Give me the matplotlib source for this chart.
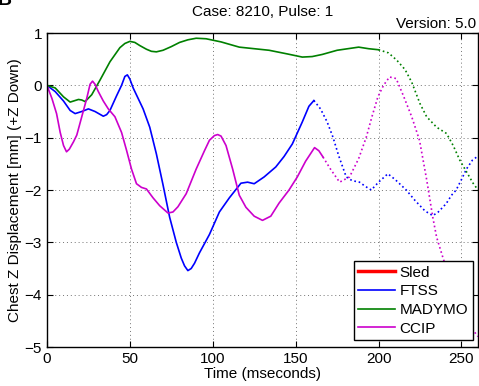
import numpy as np
from matplotlib import pyplot as plt

plt.rcParams['font.family'] = ['Liberation Sans', 'DejaVu Sans']
plt.rcParams['font.size'] = 10

# MADYMO (green): solid part, then dotted continuation
madymo_t = [0, 5, 10, 14, 17, 19, 21, 23, 27, 32, 38, 44, 47, 50, 53, 56, 60, 63, 66, 70, 75, 80, 85,
            90, 96, 105, 116, 125, 134, 145, 154, 160, 166, 175, 188, 194, 200]
madymo_v = [0, -0.05, -0.22, -0.32, -0.29, -0.27, -0.28, -0.31, -0.18, 0.1, 0.45, 0.72, 0.8, 0.84,
            0.82, 0.76, 0.69, 0.65, 0.64, 0.67, 0.74, 0.82, 0.87, 0.9, 0.89, 0.83, 0.73, 0.7, 0.67,
            0.6, 0.54, 0.55, 0.59, 0.67, 0.73, 0.7, 0.68]
madymo_dot_t = [200, 206, 211, 216, 220, 225, 229, 235, 241, 245, 249, 253, 257, 260]
madymo_dot_v = [0.68, 0.62, 0.48, 0.3, 0.06, -0.35, -0.6, -0.8, -0.92, -1.15, -1.43, -1.65, -1.87, -2.0]

# FTSS (blue)
ftss_t = [0, 5, 10, 14, 17, 21, 25, 29, 34, 36, 38, 42, 45, 47, 48.5, 50, 52, 55, 58, 62, 66, 70, 74,
          78, 81, 83, 85, 87, 89, 92, 98, 104, 110, 117, 121, 125, 131, 138, 143, 148, 154, 158, 161]
ftss_v = [0, -0.12, -0.3, -0.48, -0.54, -0.5, -0.45, -0.5, -0.59, -0.56, -0.48, -0.2, 0.0, 0.17, 0.2,
          0.12, -0.05, -0.25, -0.45, -0.8, -1.31, -1.9, -2.52, -3.0, -3.3, -3.45, -3.54, -3.5, -3.4,
          -3.2, -2.85, -2.42, -2.15, -1.87, -1.85, -1.88, -1.75, -1.56, -1.36, -1.12, -0.7, -0.4, -0.29]
ftss_dot_t = [161, 165, 169, 172.5, 176, 180.5, 184, 188.5, 192, 195.6, 200, 205.6, 210, 216.7, 222,
              228, 232.7, 236, 240.8, 244, 246.8, 250, 253, 256.6, 260]
ftss_dot_v = [-0.29, -0.45, -0.7, -0.99, -1.35, -1.75, -1.82, -1.85, -1.93, -2.0, -1.85, -1.69, -1.8,
              -2.0, -2.2, -2.4, -2.49, -2.42, -2.26, -2.1, -2.0, -1.8, -1.6, -1.43, -1.35]

# CCIP (magenta)
ccip_t = [0, 3, 5.8, 8, 10, 11.8, 13.5, 16, 18, 21, 24, 26, 27.5, 29, 31, 34, 37, 41, 45, 48, 51, 54,
          57, 60, 64, 68, 73, 76, 79, 84, 90, 95, 98, 101, 103, 105, 108, 112, 116, 120, 125, 130, 135,
          140, 146, 151, 156, 161.4, 164, 166.5]
ccip_v = [0, -0.25, -0.54, -0.9, -1.15, -1.27, -1.22, -1.08, -0.95, -0.6, -0.25, 0.02, 0.08, 0.02,
          -0.12, -0.3, -0.45, -0.6, -0.9, -1.24, -1.6, -1.88, -1.95, -1.98, -2.15, -2.3, -2.44, -2.42,
          -2.32, -2.07, -1.6, -1.25, -1.05, -0.96, -0.94, -0.97, -1.15, -1.6, -2.1, -2.33, -2.5, -2.58,
          -2.5, -2.25, -2.0, -1.75, -1.45, -1.19, -1.25, -1.37]
ccip_dot_t = [166.5, 171, 176.5, 182.5, 188, 192.6, 196, 199.6, 203, 206.6, 210.6, 215, 220, 224.7,
              229, 232.7, 235, 238.7, 244, 250, 255, 260]
ccip_dot_v = [-1.37, -1.6, -1.85, -1.75, -1.4, -0.99, -0.6, -0.22, 0.0, 0.16, 0.13, -0.2, -0.6, -1.05,
              -1.8, -2.52, -2.9, -3.28, -3.8, -4.3, -4.6, -4.8]

# Sled (red) has no data in this plot
sled_t = []
sled_v = []

x_ticks = [0, 50, 100, 150, 200, 250]
y_ticks = [-5, -4, -3, -2, -1, 0, 1]

fig = plt.figure(figsize=(4.79, 3.86), dpi=100)
ax = fig.add_axes([0.098, 0.101, 0.9, 0.8135])

ax.plot(sled_t, sled_v, color='red', lw=2.5, label='Sled')
ax.plot(ftss_t, ftss_v, color='#0000ff', lw=1.2, label='FTSS')
ax.plot(madymo_t, madymo_v, color='#008000', lw=1.2, label='MADYMO')
ax.plot(ccip_t, ccip_v, color='#cc00cc', lw=1.2, label='CCIP')
ax.plot(ftss_dot_t, ftss_dot_v, color='#0000ff', lw=1.2, ls=':')
ax.plot(madymo_dot_t, madymo_dot_v, color='#008000', lw=1.2, ls=':')
ax.plot(ccip_dot_t, ccip_dot_v, color='#cc00cc', lw=1.2, ls=':')

ax.set_xlim(0, 260)
ax.set_ylim(-5, 1)
ax.set_xticks(x_ticks)
ax.set_yticks(y_ticks)
ax.tick_params(direction='in', top=True, right=True, length=4, labelsize=11)
ax.grid(True, color='0.45', ls=(0, (1, 3)), lw=0.7)
for s in ax.spines.values():
    s.set_linewidth(1.0)

ax.set_xlabel('Time (mseconds)', fontsize=11, labelpad=1)
ax.set_ylabel('Chest Z Displacement [mm] (+Z Down)', fontsize=11, labelpad=2)
ax.text(0.5, 1.045, 'Case: 8210, Pulse: 1', transform=ax.transAxes, ha='center', va='bottom', fontsize=11)
ax.text(0.995, 1.005, 'Version: 5.0', transform=ax.transAxes, ha='right', va='bottom', fontsize=11)
# panel letter, partly cut off at the top edge as in the original
fig.text(-0.004, 0.987, 'B', ha='left', va='baseline', fontsize=14, weight='bold')

leg = ax.legend(loc='lower right', bbox_to_anchor=(0.988, 0.022), borderaxespad=0,
                fancybox=False, framealpha=1, edgecolor='black', fontsize=11,
                handlelength=2.4, handletextpad=0.3, labelspacing=0.3, borderpad=0.3)
leg.get_frame().set_linewidth(1.0)

plt.savefig('out.png', dpi=100)
